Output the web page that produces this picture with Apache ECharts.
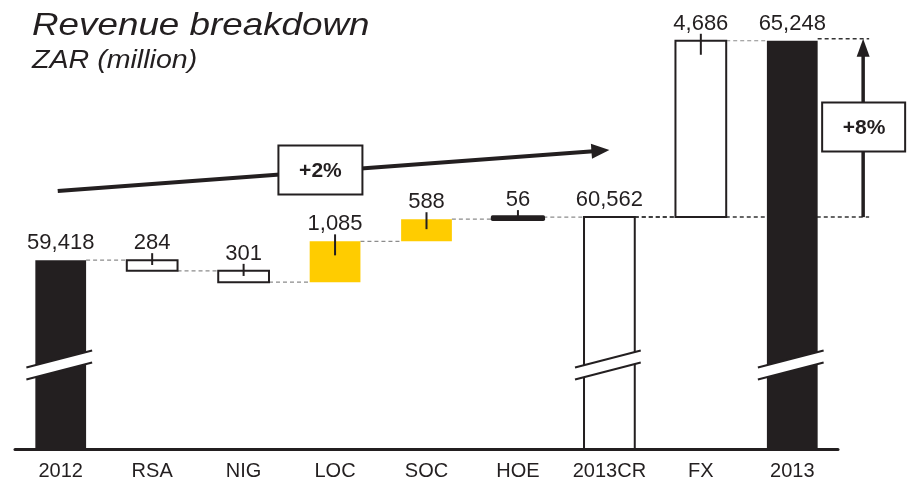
<!DOCTYPE html>
<html>
<head>
<meta charset="utf-8">
<script src="https://cdn.jsdelivr.net/npm/echarts@6/dist/echarts.min.js"></script>
<style>html,body{margin:0;padding:0;background:#fff;}#chart{width:907px;height:482px;}</style>
</head>
<body>
<div id="chart"></div>
<script>
// ---- data ----
const categories = ['2012', 'RSA', 'NIG', 'LOC', 'SOC', 'HOE', '2013CR', 'FX', '2013'];
const values = [59418, -284, -301, 1085, 588, 56, 60562, 4686, 65248];
const isTotal = [true, false, false, false, false, false, true, false, true];
const valueLabels = ['59,418', '284', '301', '1,085', '588', '56', '60,562', '4,686', '65,248'];
const growthLabels = ['+2%', '+8%'];
const titleText = 'Revenue breakdown';
const subtitleText = 'ZAR (million)';

// ---- styling (not data) ----
const INK = '#231f20';
const YELLOW = '#FFCC00';
const barStyle = {
  '2012': 'solid', 'RSA': 'outline', 'NIG': 'outline', 'LOC': 'yellow', 'SOC': 'yellow',
  'HOE': 'thick', '2013CR': 'outline', 'FX': 'outline', '2013': 'solid'
};
const Y_MIN = 54400, Y_MAX = 65800;
const BREAK_AT = 56630;
const FONT = '"Liberation Sans", Arial, Helvetica, sans-serif';

// build bar extents from the values
const bars = [];
const levels = [];
let running = 0;
values.forEach((v, i) => {
  let low, high;
  if (isTotal[i]) { low = Y_MIN; high = v; running = v; }
  else { const prev = running; running += v; low = Math.min(prev, running); high = Math.max(prev, running); }
  bars.push([i, low, high, isTotal[i] ? 1 : 0]);
  levels.push(running);
});
const connectors = [];
for (let i = 0; i < categories.length - 1; i++) connectors.push([i, levels[i]]);

const chart = echarts.init(document.getElementById('chart'), null, { renderer: 'canvas' });

function barRender(params, api) {
  const i = api.value(0), low = api.value(1), high = api.value(2), tot = api.value(3);
  const band = api.size([1, 0])[0];
  const w = band * 0.555;
  const pt = api.coord([i, high]);
  const pb = api.coord([i, low]);
  const cx = pt[0], x = cx - w / 2, yTop = pt[1], h = pb[1] - pt[1];
  const st = barStyle[categories[i]];
  const children = [];
  let style;
  if (st === 'solid') style = { fill: INK, stroke: null };
  else if (st === 'yellow') style = { fill: YELLOW, stroke: null };
  else if (st === 'thick') style = { fill: INK, stroke: INK, lineWidth: 3.5, lineJoin: 'round' };
  else style = { fill: '#fff', stroke: INK, lineWidth: 2 };
  children.push({ type: 'rect', shape: { x: x, y: yTop, width: w, height: h }, style: style });
  if (tot) {
    // axis break mark
    const yb = api.coord([i, BREAK_AT])[1];
    const xl = x - 9, xr = x + w + 6;
    const dy = 8.5, gap = 6;
    children.push({ type: 'polygon', shape: { points: [[xl, yb + dy - gap], [xr, yb - dy - gap], [xr, yb - dy + gap], [xl, yb + dy + gap]] }, style: { fill: '#fff' } });
    children.push({ type: 'line', shape: { x1: xl, y1: yb + dy - gap, x2: xr, y2: yb - dy - gap }, style: { stroke: INK, lineWidth: 2 } });
    children.push({ type: 'line', shape: { x1: xl, y1: yb + dy + gap, x2: xr, y2: yb - dy + gap }, style: { stroke: INK, lineWidth: 2 } });
  } else {
    const into = Math.min(14, h * 0.45);
    children.push({ type: 'line', shape: { x1: cx, y1: yTop - 7, x2: cx, y2: yTop + into }, style: { stroke: INK, lineWidth: 2 } });
  }
  children.push({
    type: 'text', x: cx, y: yTop - 6,
    style: { text: valueLabels[i], fill: INK, font: '22px ' + FONT, align: 'center', verticalAlign: 'bottom' }
  });
  return { type: 'group', children: children };
}

function connRender(params, api) {
  const i = api.value(0), lv = api.value(1);
  const band = api.size([1, 0])[0];
  const w = band * 0.555;
  const a = api.coord([i, lv]), b = api.coord([i + 1, lv]);
  const dark = (i === 6);
  return {
    type: 'line', z2: -1,
    shape: { x1: a[0] + w / 2, y1: a[1], x2: b[0] - w / 2, y2: b[1] },
    style: { stroke: dark ? '#333' : '#8c8c8c', lineWidth: dark ? 1.5 : 1.2, lineDash: [4, 3] }
  };
}

function annRender(params, api) {
  const band = api.size([1, 0])[0];
  const w = band * 0.555;
  const n = categories.length;
  const last = n - 1;
  const children = [];
  // +2% trend arrow
  const s = api.coord([0, 61255]);
  const e = api.coord([6, 62345]);
  const sx = s[0] - 3;
  const ang = Math.atan2(e[1] - s[1], e[0] - sx);
  const hl = 18, hw = 7.5;
  const bx = e[0] - hl * Math.cos(ang), by = e[1] - hl * Math.sin(ang);
  children.push({ type: 'line', shape: { x1: sx, y1: s[1], x2: bx + 2 * Math.cos(ang), y2: by + 2 * Math.sin(ang) }, style: { stroke: INK, lineWidth: 4 } });
  children.push({ type: 'polygon', shape: { points: [[e[0], e[1]], [bx - hw * Math.sin(ang), by + hw * Math.cos(ang)], [bx + hw * Math.sin(ang), by - hw * Math.cos(ang)]] }, style: { fill: INK } });
  const b1 = api.coord([2, 61813]);
  const b1x = b1[0] + band * 0.84;
  children.push({ type: 'rect', shape: { x: b1x - 42, y: b1[1] - 24.5, width: 84, height: 49 }, style: { fill: '#fff', stroke: INK, lineWidth: 2 } });
  children.push({ type: 'text', x: b1x, y: b1[1] + 1, style: { text: growthLabels[0], fill: INK, font: 'bold 21px ' + FONT, align: 'center', verticalAlign: 'middle' } });

  // +8% vertical arrow
  const ax = api.coord([last, values[last]])[0] + band * 0.775;
  const yLo = api.coord([last, levels[6]])[1];
  const yHi = api.coord([last, levels[last]])[1] - 2;
  const xr = api.coord([last, 0])[0] + w / 2;
  const xcr = api.coord([6, 0])[0] + w / 2;
  children.push({ type: 'line', z2: -2, shape: { x1: xcr, y1: yLo, x2: ax + 6, y2: yLo }, style: { stroke: '#333', lineWidth: 1.5, lineDash: [4, 3] } });
  children.push({ type: 'line', shape: { x1: xr, y1: yHi, x2: ax + 6, y2: yHi }, style: { stroke: '#333', lineWidth: 1.5, lineDash: [4, 3] } });
  children.push({ type: 'line', shape: { x1: ax, y1: yLo, x2: ax, y2: yHi + 16 }, style: { stroke: INK, lineWidth: 3.5 } });
  children.push({ type: 'polygon', shape: { points: [[ax, yHi], [ax - 6.5, yHi + 18], [ax + 6.5, yHi + 18]] }, style: { fill: INK } });
  const b2y = api.coord([last, 62955])[1];
  children.push({ type: 'rect', shape: { x: ax - 41, y: b2y - 24.5, width: 83, height: 49 }, style: { fill: '#fff', stroke: INK, lineWidth: 2 } });
  children.push({ type: 'text', x: ax + 1, y: b2y + 1, style: { text: growthLabels[1], fill: INK, font: 'bold 21px ' + FONT, align: 'center', verticalAlign: 'middle' } });
  return { type: 'group', children: children };
}

const option = {
  backgroundColor: '#fff',
  animation: false,
  graphic: [
    { type: 'text', x: 32, y: 26, scaleX: 1.15, silent: true,
      style: { text: titleText, fill: INK, font: 'italic 32px ' + FONT, align: 'left', verticalAlign: 'middle' } },
    { type: 'text', x: 32, y: 61, scaleX: 1.1, silent: true,
      style: { text: subtitleText, fill: INK, font: 'italic 26px ' + FONT, align: 'left', verticalAlign: 'middle' } }
  ],
  grid: { left: 15, right: 69, top: 20, bottom: 33, containLabel: false },
  xAxis: {
    type: 'category', data: categories,
    axisLine: { show: true, lineStyle: { color: INK, width: 3 } },
    axisTick: { show: false },
    axisLabel: { color: INK, fontSize: 20, fontFamily: FONT, margin: 12, interval: 0 }
  },
  yAxis: { type: 'value', min: Y_MIN, max: Y_MAX, show: false, splitLine: { show: false } },
  series: [
    { type: 'custom', name: 'connectors', data: connectors, renderItem: connRender, encode: { x: 0, y: 1 }, z: 1, clip: false, silent: true },
    { type: 'custom', name: 'annotations', data: [[0, Y_MIN]], renderItem: annRender, encode: { x: 0, y: 1 }, z: 1, clip: false, silent: true },
    { type: 'custom', name: 'bars', data: bars, renderItem: barRender, encode: { x: 0, y: [1, 2] }, z: 2, clip: false, silent: true }
  ]
};
chart.setOption(option);
</script>
</body>
</html>
